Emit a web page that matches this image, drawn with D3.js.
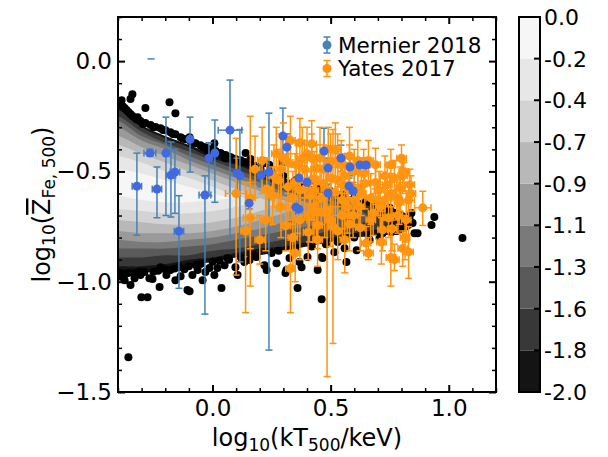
<!DOCTYPE html>
<html><head><meta charset="utf-8">
<script src="https://cdn.jsdelivr.net/npm/d3@7"></script>
<style>body{margin:0;background:#fff} svg{display:block;font-family:"DejaVu Sans",sans-serif}</style>
</head><body><svg id="c" width="608" height="457"></svg>
<script>
// ---------------- data ----------------
const xTicks = [0.0, 0.5, 1.0];
const yTicks = [0.0, -0.5, -1.0, -1.5];
const contourLevels = [-2.0, -1.778, -1.556, -1.333, -1.111, -0.889, -0.667, -0.444, -0.222, 0.0];
const bandColors = ["#141414", "#383838", "#5a5a5a", "#7a7a7a", "#9a9a9a", "#b8b8b8", "#d3d3d3", "#e7e7e7", "#f6f6f6"];
// contour boundaries (log10 Z) sampled at contourX, one row per level (outer -> inner)
const contourX = [-0.4, -0.3, -0.2, -0.1, 0.0, 0.1, 0.2, 0.3, 0.4, 0.5, 0.6, 0.7, 0.8];
const contourUpper = [
  [-0.20,-0.29,-0.34,-0.38,-0.42,-0.46,-0.49,-0.53,-0.56,-0.59,-0.62,-0.65,-0.68],
  [-0.22,-0.30,-0.35,-0.39,-0.44,-0.47,-0.51,-0.55,-0.58,-0.61,-0.64,-0.67],
  [-0.25,-0.32,-0.37,-0.41,-0.45,-0.49,-0.53,-0.57,-0.60,-0.63,-0.66],
  [-0.27,-0.34,-0.38,-0.43,-0.47,-0.51,-0.55,-0.59,-0.62,-0.65],
  [-0.30,-0.36,-0.40,-0.45,-0.49,-0.53,-0.57,-0.61,-0.64],
  [-0.34,-0.39,-0.43,-0.47,-0.51,-0.55,-0.59,-0.63],
  [-0.38,-0.42,-0.46,-0.50,-0.54,-0.58,-0.62],
  [-0.43,-0.46,-0.50,-0.53,-0.57,-0.61],
  [-0.49,-0.51,-0.54,-0.57,-0.60]
];
const contourLower = [
  [-0.98,-0.96,-0.95,-0.93,-0.91,-0.89,-0.88,-0.86,-0.84,-0.82,-0.80,-0.79,-0.78],
  [-0.93,-0.93,-0.92,-0.90,-0.89,-0.87,-0.85,-0.84,-0.82,-0.80,-0.78,-0.76],
  [-0.89,-0.89,-0.88,-0.88,-0.86,-0.85,-0.83,-0.81,-0.79,-0.77,-0.75],
  [-0.85,-0.85,-0.85,-0.84,-0.83,-0.81,-0.79,-0.77,-0.75,-0.72],
  [-0.81,-0.82,-0.82,-0.81,-0.80,-0.78,-0.76,-0.73,-0.70],
  [-0.77,-0.78,-0.78,-0.78,-0.77,-0.75,-0.72,-0.69],
  [-0.72,-0.73,-0.74,-0.74,-0.73,-0.71,-0.68],
  [-0.67,-0.68,-0.69,-0.69,-0.68,-0.66],
  [-0.61,-0.63,-0.64,-0.64,-0.63]
];
const contourTip = [[0.86,-0.73],[0.76,-0.72],[0.66,-0.71],[0.56,-0.69],[0.46,-0.68],[0.37,-0.66],[0.28,-0.65],[0.18,-0.635],[0.07,-0.62]];

// simulated clusters outside the contours [log10 kT, log10 Z]
const blackDots = [
  [-0.389,-0.195],[-0.372,-0.213],[-0.356,-0.231],[-0.339,-0.249],[-0.322,-0.263],[-0.305,-0.272],[-0.284,-0.281],[-0.262,-0.290],[-0.241,-0.299],[-0.220,-0.304],[-0.199,-0.313],[-0.178,-0.322],[-0.157,-0.331],[-0.135,-0.345],[-0.114,-0.354],[-0.093,-0.363],[-0.072,-0.372],[-0.051,-0.381],[-0.030,-0.390],[-0.008,-0.399],[0.013,-0.408],[0.034,-0.417],[0.055,-0.426],[0.076,-0.435],[0.097,-0.444],[0.119,-0.449],[0.140,-0.458],[0.161,-0.467],[0.182,-0.476],[0.203,-0.485],
  [-0.380,-0.205],[-0.364,-0.222],[-0.347,-0.240],[-0.330,-0.256],[-0.295,-0.285],[-0.250,-0.300],[-0.210,-0.312],[-0.168,-0.330],[-0.125,-0.352],[-0.083,-0.370],[-0.040,-0.389],[0.002,-0.406],[0.044,-0.424],[0.086,-0.442],[0.130,-0.456],[0.172,-0.474],
  [0.25,-0.50],[0.30,-0.52],[0.35,-0.54],[0.40,-0.56],[0.45,-0.575],[0.50,-0.59],[0.55,-0.605],[0.60,-0.62],[0.65,-0.635],[0.70,-0.65],[0.75,-0.665],
  [-0.339,-0.150],[-0.347,-0.172],[-0.385,-0.177],[-0.284,-0.213],[-0.182,-0.186],[-0.157,-0.236],[-0.317,-0.254],[-0.097,-0.345],[-0.021,-0.403],[0.008,-0.372],[0.140,-0.417],[0.161,-0.444],[0.055,-0.440],[0.220,-0.462],[0.296,-0.458],[0.419,-0.539],[0.240,-0.470],
  [-0.372,-0.993],[-0.347,-1.015],[-0.330,-0.984],[-0.305,-0.970],[-0.267,-0.984],[-0.254,-0.988],[-0.224,-1.024],[-0.301,-1.070],[-0.275,-1.070],[-0.135,-0.975],[-0.119,-0.943],[-0.106,-1.038],[-0.097,-1.043],[-0.042,-0.993],[0.008,-0.970],[0.038,-1.029],[0.063,-0.893],[0.097,-0.934],[-0.063,-0.947],[-0.178,-0.947],[-0.220,-0.934],[-0.013,-0.938],[0.051,-0.925],[-0.385,-0.979],[-0.356,-0.961],[-0.288,-0.956],[-0.195,-0.970],[-0.157,-0.993],[-0.085,-0.970],[-0.030,-0.956],[0.021,-0.938],[0.135,-0.911],[0.186,-0.888],[0.220,-0.925],[0.229,-0.947],[0.271,-0.916],[0.313,-0.947],[0.309,-0.961],[0.368,-0.911],[0.377,-0.934],[0.402,-0.888],[0.445,-0.947],[0.462,-0.888],[0.360,-1.029],[0.462,-1.079],[0.567,-0.911],[0.610,-0.857],[0.106,-0.970],[0.466,-0.893],[0.157,-0.902],[0.326,-0.893],[0.516,-0.866],[0.559,-0.848],[0.665,-0.811],[0.707,-0.802],[0.758,-0.775],
  [-0.39,-0.96],[-0.37,-0.965],[-0.33,-0.96],[-0.31,-0.955],[-0.25,-0.955],[-0.23,-0.95],[-0.20,-0.945],[-0.16,-0.94],[-0.14,-0.935],[-0.10,-0.93],[-0.07,-0.925],[-0.05,-0.92],[0.0,-0.91],[0.03,-0.905],[0.07,-0.90],[0.12,-0.89],[0.17,-0.88],[0.25,-0.87],[0.28,-0.86],[0.35,-0.85],[0.42,-0.84],[0.48,-0.83],[0.53,-0.82],[0.60,-0.80],[0.66,-0.79],[0.72,-0.78],[0.78,-0.77],
  [0.800,-0.712],[0.834,-0.707],[0.847,-0.734],[0.855,-0.780],[0.868,-0.780],[0.927,-0.743],[0.939,-0.707],[1.058,-0.802],[0.804,-0.757],[0.842,-0.689],
  [-0.356,-1.342]
];

// Mernier 2018: [log10 kT, log10 Z, xerr, yLow, yHigh]
const mernier = [
  [-0.32,-0.567,0.02,-0.789,-0.417],[-0.265,-0.417,0.025,-0.43,-0.40],[-0.235,-0.58,0.02,-0.71,-0.48],
  [-0.197,-0.417,0.01,-0.70,-0.254],[-0.176,-0.517,0.02,-0.707,-0.367],[-0.159,-0.503,0.02,-0.69,-0.40],
  [-0.142,-0.771,0.02,-1.03,-0.61],[-0.095,-0.354,0.0,-0.503,-0.254],[-0.032,-0.607,0.025,-1.147,-0.52],
  [0.01,-0.417,0.0,-0.64,-0.267],[-0.015,-0.44,0.0,-0.61,-0.37],[0.074,-0.313,0.05,-0.80,-0.086],
  [0.104,-0.508,0.0,-0.60,-0.44],[0.116,-0.52,0.0,-0.91,-0.31],[0.155,-0.644,0.0,-0.67,-0.62],
  [0.205,-0.517,0.0,-0.57,-0.47],[0.239,-0.503,0.02,-1.31,-0.236],[0.298,-0.34,0.0,-0.50,-0.213],
  [0.315,-0.39,0.0,-0.45,-0.33],[0.353,-0.662,0.0,-0.70,-0.62],[0.366,-0.671,0.0,-0.72,-0.63],
  [0.366,-0.53,0.0,-0.58,-0.48],[0.40,-0.549,0.0,-0.60,-0.50],[0.472,-0.408,0.0,-0.50,-0.304],
  [0.489,-0.485,0.0,-0.54,-0.44],[0.489,-0.598,0.0,-0.63,-0.56],[0.544,-0.44,0.0,-0.50,-0.381],
  [0.578,-0.567,0.0,-0.60,-0.53],[0.595,-0.589,0.0,-0.62,-0.55],[0.624,-0.471,0.015,-0.50,-0.44],
  [0.65,-0.471,0.015,-0.50,-0.44],[0.582,-0.48,0.0,-0.52,-0.44]
];
const mernierLoneCap = [[-0.26, 0.01]];

// Yates 2017: [log10 kT, log10 Z, xerr, yLow, yHigh]
const yates = [
  [0.10,-0.60,0.045,-0.97,-0.35],[0.16,-0.62,0.02,-1.02,-0.25],[0.14,-0.77,0.02,-1.14,-0.55],[0.18,-0.49,0.02,-0.62,-0.34],
  [0.21,-0.45,0.02,-0.60,-0.30],[0.16,-0.71,0.03,-0.85,-0.55],[0.29,-0.66,0.02,-0.80,-0.50],[0.28,-0.54,0.02,-0.68,-0.40],
  [0.29,-0.49,0.02,-0.62,-0.33],[0.30,-0.44,0.02,-0.57,-0.28],[0.32,-0.46,0.02,-0.60,-0.34],[0.32,-0.57,0.03,-0.72,-0.42],
  [0.33,-0.94,0.02,-1.14,-0.80],[0.34,-0.80,0.02,-0.95,-0.63],[0.35,-0.87,0.02,-1.00,-0.70],[0.37,-0.37,0.02,-0.47,-0.26],
  [0.37,-0.585,0.02,-0.73,-0.45],[0.37,-0.72,0.03,-0.90,-0.55],[0.38,-0.44,0.02,-0.55,-0.30],[0.39,-0.49,0.025,-0.62,-0.36],
  [0.42,-0.375,0.02,-0.50,-0.27],[0.42,-0.44,0.02,-0.56,-0.33],[0.43,-0.66,0.02,-0.82,-0.52],[0.43,-0.535,0.02,-0.65,-0.41],
  [0.43,-0.585,0.02,-0.72,-0.46],[0.455,-0.44,0.02,-0.55,-0.30],[0.47,-0.555,0.03,-0.68,-0.45],[0.475,-0.685,0.02,-0.80,-0.56],
  [0.485,-0.68,0.02,-1.43,-0.45],[0.50,-0.46,0.02,-0.58,-0.33],[0.50,-0.53,0.02,-0.66,-0.40],[0.51,-0.40,0.02,-0.52,-0.31],
  [0.52,-0.595,0.025,-0.70,-0.48],[0.51,-0.75,0.02,-1.28,-0.60],[0.53,-0.54,0.02,-0.66,-0.42],[0.53,-0.77,0.02,-0.90,-0.62],
  [0.545,-0.47,0.02,-0.60,-0.36],[0.55,-0.63,0.02,-0.76,-0.50],[0.56,-0.81,0.02,-0.96,-0.67],[0.575,-0.575,0.03,-0.70,-0.46],
  [0.58,-0.43,0.02,-0.55,-0.30],[0.58,-0.48,0.02,-0.60,-0.38],[0.60,-0.63,0.02,-0.74,-0.51],[0.615,-0.585,0.02,-0.70,-0.47],
  [0.64,-0.51,0.02,-0.62,-0.40],[0.645,-0.555,0.02,-0.67,-0.44],[0.65,-0.825,0.02,-0.87,-0.75],[0.67,-0.62,0.02,-0.74,-0.51],
  [0.69,-0.47,0.02,-0.58,-0.395],[0.705,-0.585,0.02,-0.68,-0.50],[0.715,-0.82,0.02,-0.92,-0.71],[0.73,-0.63,0.025,-0.72,-0.53],
  [0.755,-0.60,0.02,-0.70,-0.51],[0.755,-0.89,0.02,-1.02,-0.77],[0.77,-0.53,0.02,-0.62,-0.45],[0.78,-0.62,0.02,-0.72,-0.53],
  [0.795,-0.575,0.02,-0.68,-0.48],[0.81,-0.50,0.02,-0.59,-0.46],[0.83,-0.63,0.025,-0.72,-0.55],[0.815,-0.80,0.02,-0.90,-0.70],
  [0.83,-0.865,0.02,-0.985,-0.75],[0.89,-0.665,0.035,-0.745,-0.59],[0.805,-0.52,0.02,-0.60,-0.46],[0.77,-0.90,0.02,-0.95,-0.83],
  [0.405,-0.775,0.02,-0.90,-0.65],[0.445,-0.745,0.02,-0.85,-0.64],[0.31,-0.745,0.02,-0.86,-0.62],[0.36,-0.665,0.03,-0.78,-0.55],
  [0.595,-0.70,0.02,-0.80,-0.60],[0.625,-0.755,0.02,-0.86,-0.66],[0.68,-0.69,0.02,-0.79,-0.60],[0.745,-0.71,0.02,-0.80,-0.62],
  [0.72,-0.765,0.02,-0.86,-0.68],[0.66,-0.87,0.02,-0.90,-0.80],[0.55,-0.70,0.02,-0.80,-0.60],[0.445,-0.81,0.02,-0.93,-0.70],
  [0.255,-0.61,0.02,-0.74,-0.48],[0.225,-0.72,0.02,-0.86,-0.58],[0.20,-0.81,0.02,-0.92,-0.70],[0.355,-0.47,0.02,-0.58,-0.36],
  [0.47,-0.49,0.02,-0.60,-0.38],[0.615,-0.45,0.02,-0.56,-0.36],[0.73,-0.52,0.02,-0.62,-0.43],[0.755,-0.47,0.02,-0.55,-0.40],
  [0.70,-0.63,0.02,-0.70,-0.55],[0.785,-0.70,0.02,-0.78,-0.62],[0.835,-0.56,0.02,-0.63,-0.49],[0.805,-0.85,0.02,-0.93,-0.77],
  [0.55,-0.56,0.02,-0.68,-0.45],[0.415,-0.61,0.02,-0.72,-0.50],[0.49,-0.40,0.02,-0.50,-0.30],[0.52,-0.40,0.02,-0.53,-0.28],
  [0.44,-0.485,0.02,-0.60,-0.38],
  [0.27,-0.42,0.02,-0.55,-0.30],[0.33,-0.36,0.02,-0.48,-0.25],[0.35,-0.55,0.02,-0.66,-0.42],[0.40,-0.42,0.02,-0.53,-0.30],
  [0.41,-0.70,0.02,-0.82,-0.58],[0.46,-0.62,0.02,-0.74,-0.50],[0.48,-0.58,0.02,-0.70,-0.45],[0.50,-0.72,0.02,-0.84,-0.60],
  [0.53,-0.45,0.02,-0.57,-0.33],[0.56,-0.52,0.02,-0.64,-0.42],[0.57,-0.66,0.02,-0.78,-0.55],[0.60,-0.50,0.02,-0.62,-0.40],
  [0.62,-0.66,0.02,-0.76,-0.56],[0.63,-0.60,0.02,-0.70,-0.50],[0.66,-0.45,0.02,-0.55,-0.36],[0.67,-0.72,0.02,-0.82,-0.62],
  [0.69,-0.55,0.02,-0.65,-0.46],[0.71,-0.66,0.02,-0.76,-0.56],[0.74,-0.56,0.02,-0.66,-0.47],[0.76,-0.76,0.02,-0.86,-0.66],
  [0.79,-0.64,0.02,-0.74,-0.55],[0.80,-0.44,0.02,-0.50,-0.38],[0.82,-0.72,0.02,-0.82,-0.63],[0.84,-0.60,0.02,-0.68,-0.52],
  [0.26,-0.52,0.02,-0.66,-0.38],[0.23,-0.58,0.02,-0.72,-0.44],[0.39,-0.58,0.02,-0.70,-0.46],[0.44,-0.68,0.02,-0.80,-0.56],
  [0.34,-0.62,0.02,-0.74,-0.50],[0.58,-0.74,0.02,-0.86,-0.62]
];
const legendLabels = ["Mernier 2018", "Yates 2017"];

// ---------------- layout ----------------
const L = 118, R = 496, T = 17, B = 392;
const x = d3.scaleLinear().domain([-0.4, 1.2]).range([L, R]);
const y = d3.scaleLinear().domain([-1.5, 0.2]).range([B, T]);
const svg = d3.select("#c");
svg.append("defs").append("clipPath").attr("id", "clip")
  .append("rect").attr("x", L).attr("y", T).attr("width", R - L).attr("height", B - T);
const plot = svg.append("g").attr("clip-path", "url(#clip)");

// contours
const cline = d3.line().x(d => x(d[0])).y(d => y(d[1])).curve(d3.curveCatmullRom.alpha(0.5));
contourUpper.forEach((up, k) => {
  const lo = contourLower[k];
  const pts = [[-0.46, up[0]]];
  up.forEach((v, i) => pts.push([contourX[i], v]));
  pts.push(contourTip[k]);
  for (let i = lo.length - 1; i >= 0; i--) pts.push([contourX[i], lo[i]]);
  pts.push([-0.46, lo[0]]);
  plot.append("path").attr("d", cline(pts) + "Z").attr("fill", bandColors[k]);
});

// black dots
plot.append("g").selectAll("circle").data(blackDots).join("circle")
  .attr("cx", d => x(d[0])).attr("cy", d => y(d[1])).attr("r", 4).attr("fill", "#000");

function errorbars(g, data, color) {
  const cap = 3.5;
  data.forEach(d => {
    const cx = x(d[0]), cy = y(d[1]);
    const y0 = y(d[3]), y1 = y(d[4]);
    g.append("line").attr("x1", cx).attr("x2", cx).attr("y1", y0).attr("y2", y1);
    g.append("line").attr("x1", cx - cap).attr("x2", cx + cap).attr("y1", y0).attr("y2", y0);
    g.append("line").attr("x1", cx - cap).attr("x2", cx + cap).attr("y1", y1).attr("y2", y1);
    if (d[2] > 0) {
      const xa = x(d[0] - d[2]), xb = x(d[0] + d[2]);
      g.append("line").attr("x1", xa).attr("x2", xb).attr("y1", cy).attr("y2", cy);
      g.append("line").attr("x1", xa).attr("x2", xa).attr("y1", cy - cap).attr("y2", cy + cap);
      g.append("line").attr("x1", xb).attr("x2", xb).attr("y1", cy - cap).attr("y2", cy + cap);
    }
  });
  g.attr("stroke", color).attr("stroke-width", 1.5).attr("fill", "none");
}
const mG = plot.append("g");
errorbars(mG, mernier, "#4682b4");
mernierLoneCap.forEach(d => mG.append("line").attr("x1", x(d[0]) - 3.5).attr("x2", x(d[0]) + 3.5)
  .attr("y1", y(d[1])).attr("y2", y(d[1])));

const yG = plot.append("g");
errorbars(yG, yates, "#ff9410");
plot.append("g").selectAll("circle").data(yates).join("circle")
  .attr("cx", d => x(d[0])).attr("cy", d => y(d[1])).attr("r", 4.5).attr("fill", "#ff9410");
plot.append("g").selectAll("circle").data(mernier).join("circle")
  .attr("cx", d => x(d[0])).attr("cy", d => y(d[1])).attr("r", 4.5).attr("fill", "#4169e1");

// axes
const fmt = d3.format(".1f");
const xMinor = d3.range(-4, 13).map(v => v / 10).filter(v => !xTicks.some(t => Math.abs(t - v) < 1e-9));
const yMinor = d3.range(-15, 3).map(v => v / 10).filter(v => !yTicks.some(t => Math.abs(t - v) < 1e-9));
function styleAxis(g, w) {
  g.select(".domain").remove();
  g.selectAll(".tick line").attr("stroke", "#000").attr("stroke-width", w);
  g.selectAll("text").attr("font-size", 23).attr("fill", "#000").attr("font-family", "DejaVu Sans");
}
svg.append("g").attr("transform", `translate(0,${B})`)
  .call(d3.axisBottom(x).tickValues(xTicks).tickFormat(fmt).tickSize(-7).tickPadding(8)).call(g => styleAxis(g, 2));
svg.append("g").attr("transform", `translate(0,${B})`)
  .call(d3.axisBottom(x).tickValues(xMinor).tickFormat("").tickSize(-4)).call(g => styleAxis(g, 1.5));
svg.append("g").attr("transform", `translate(0,${T})`)
  .call(d3.axisTop(x).tickValues(xTicks).tickFormat("").tickSize(-7)).call(g => styleAxis(g, 2));
svg.append("g").attr("transform", `translate(0,${T})`)
  .call(d3.axisTop(x).tickValues(xMinor).tickFormat("").tickSize(-4)).call(g => styleAxis(g, 1.5));
svg.append("g").attr("transform", `translate(${L},0)`)
  .call(d3.axisLeft(y).tickValues(yTicks).tickFormat(fmt).tickSize(-7).tickPadding(6)).call(g => styleAxis(g, 2));
svg.append("g").attr("transform", `translate(${L},0)`)
  .call(d3.axisLeft(y).tickValues(yMinor).tickFormat("").tickSize(-4)).call(g => styleAxis(g, 1.5));
svg.append("g").attr("transform", `translate(${R},0)`)
  .call(d3.axisRight(y).tickValues(yTicks).tickFormat("").tickSize(-7)).call(g => styleAxis(g, 2));
svg.append("g").attr("transform", `translate(${R},0)`)
  .call(d3.axisRight(y).tickValues(yMinor).tickFormat("").tickSize(-4)).call(g => styleAxis(g, 1.5));
svg.append("rect").attr("x", L).attr("y", T).attr("width", R - L).attr("height", B - T)
  .attr("fill", "none").attr("stroke", "#000").attr("stroke-width", 2);

// axis labels
const xl = svg.append("text").attr("x", (L + R) / 2).attr("y", 446).attr("text-anchor", "middle")
  .attr("font-size", 24).attr("fill", "#000");
xl.append("tspan").text("log");
xl.append("tspan").text("10").attr("font-size", 17).attr("dy", 5);
xl.append("tspan").text("(kT").attr("dy", -5);
xl.append("tspan").text("500").attr("font-size", 17).attr("dy", 5);
xl.append("tspan").text("/keV)").attr("dy", -5);

const yl = svg.append("text").attr("transform", `translate(50,${(T + B) / 2}) rotate(-90)`)
  .attr("text-anchor", "middle").attr("font-size", 24).attr("fill", "#000");
yl.append("tspan").text("log");
yl.append("tspan").text("10").attr("font-size", 17).attr("dy", 5);
yl.append("tspan").text("(").attr("dy", -5);
yl.append("tspan").text("Z").style("text-decoration", "overline");
yl.append("tspan").text("Fe, 500").attr("font-size", 17).attr("dy", 5);
yl.append("tspan").text(")").attr("dy", -5);

// legend
const legendColors = ["#4682b4", "#ff9410"];
legendLabels.forEach((lab, i) => {
  const cy = 45 + i * 23.5, hx = 327;
  const g = svg.append("g").attr("stroke", legendColors[i]).attr("stroke-width", 1.5);
  g.append("line").attr("x1", hx).attr("x2", hx).attr("y1", cy - 8).attr("y2", cy + 8);
  g.append("line").attr("x1", hx - 3.5).attr("x2", hx + 3.5).attr("y1", cy - 8).attr("y2", cy - 8);
  g.append("line").attr("x1", hx - 3.5).attr("x2", hx + 3.5).attr("y1", cy + 8).attr("y2", cy + 8);
  svg.append("circle").attr("cx", hx).attr("cy", cy).attr("r", 4.5).attr("fill", legendColors[i]);
  svg.append("text").attr("x", 338).attr("y", cy + 7.5).attr("font-size", 21.5).attr("fill", "#000").text(lab);
});

// colorbar
const cbL = 519, cbR = 540;
const cy = d3.scaleLinear().domain([-2, 0]).range([B, T]);
bandColors.forEach((c, k) => {
  svg.append("rect").attr("x", cbL).attr("width", cbR - cbL)
    .attr("y", cy(contourLevels[k + 1])).attr("height", cy(contourLevels[k]) - cy(contourLevels[k + 1]))
    .attr("fill", c);
});
contourLevels.forEach((v, k) => {
  if (k > 0 && k < contourLevels.length - 1)
    svg.append("line").attr("x1", cbR).attr("x2", cbR - 6).attr("y1", cy(v)).attr("y2", cy(v))
      .attr("stroke", "#000").attr("stroke-width", 2);
  svg.append("text").attr("x", cbR + 4).attr("y", cy(v)).attr("dy", "0.36em").attr("font-size", 22)
    .attr("fill", "#000").text(fmt(v).replace("\u2212", "-"));
});
svg.append("rect").attr("x", cbL).attr("y", T).attr("width", cbR - cbL).attr("height", B - T)
  .attr("fill", "none").attr("stroke", "#000").attr("stroke-width", 2);
</script></body></html>
